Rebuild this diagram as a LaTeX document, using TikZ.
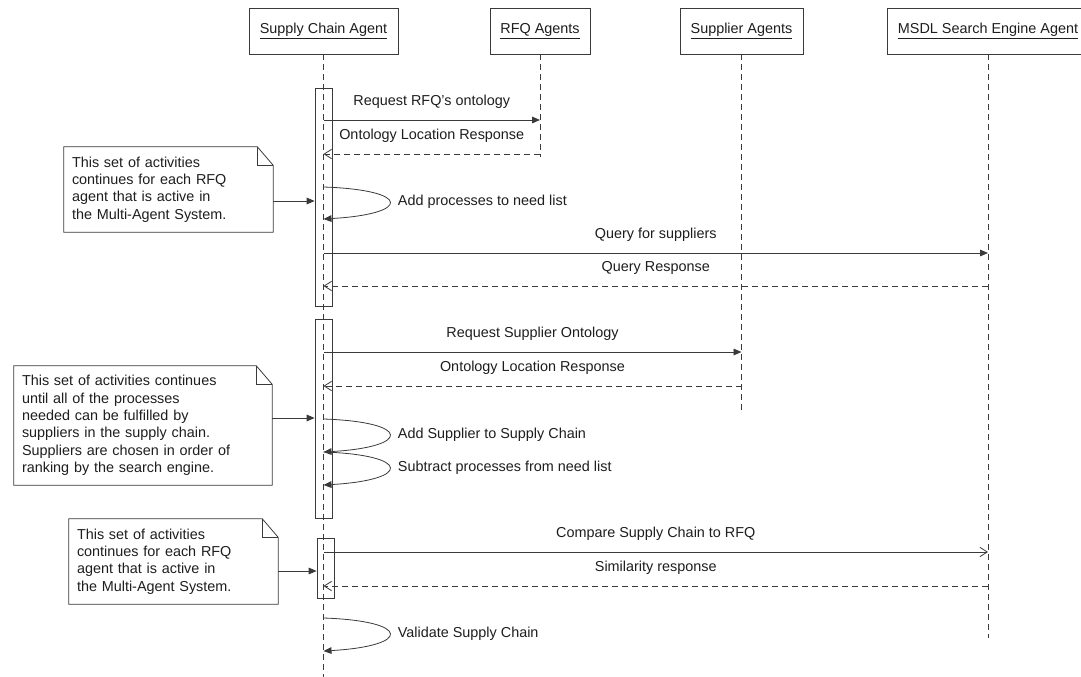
\documentclass[tikz,border=0pt]{standalone}
\usepackage{fontspec}
\setmainfont{Liberation Sans}
\usepackage{xcolor}
\definecolor{LineGray}{HTML}{3A3A3A}
\definecolor{TextGray}{HTML}{1E1E1E}
\usetikzlibrary{arrows.meta, positioning, calc}
\tikzset{
  agentbox/.style={rectangle, draw=LineGray, fill=white, line width=0.6pt, minimum height=34.5pt, inner sep=0pt, font=\fontsize{10.8}{13}\selectfont, text=TextGray},
  activebox/.style={rectangle, draw=LineGray, fill=white, line width=0.6pt, minimum width=12.75pt, inner sep=0pt},
  notebox/.style={rectangle, inner xsep=6pt, inner ysep=0pt, align=left, font=\fontsize{10.8}{13.1}\selectfont, text=TextGray},
  noteline/.style={draw=LineGray, line width=0.6pt},
  lifeline/.style={draw=LineGray, line width=0.6pt, dash pattern=on 4.5pt off 3pt},
  msgarrow/.style={draw=LineGray, line width=0.6pt, -{Triangle[length=6pt,width=5pt]}},
  callarrow/.style={draw=LineGray, line width=0.6pt, -{Straight Barb[length=5.5pt,width=7pt]}},
  retarrow/.style={draw=LineGray, line width=0.6pt, dash pattern=on 4.5pt off 3pt, -{Straight Barb[length=5.5pt,width=7pt]}},
  msglabel/.style={midway, anchor=south, inner sep=0pt, yshift=8.5pt, text height=7.5pt, text depth=2pt, font=\fontsize{10.8}{13}\selectfont, text=TextGray},
  selflabel/.style={pos=0.5, anchor=west, inner sep=0pt, xshift=6pt, text height=7.5pt, text depth=2pt, font=\fontsize{10.8}{13}\selectfont, text=TextGray}
}

\begin{document}
\begin{tikzpicture}[x=0.75pt, y=-0.75pt]
  \useasboundingbox (0,0) rectangle (1081,677);
  \clip (0,0) rectangle (1081,677);
  \fill[white] (0,0) rectangle (1081,677);

  % agents
  \node[agentbox, minimum width=111.75pt] (sc) at (323.5,31) {\underline{Supply Chain Agent}};
  \node[agentbox, minimum width=75pt] (rfq) at (540,31) {\underline{RFQ Agents}};
  \node[agentbox, minimum width=92.25pt] (sup) at (741.5,31) {\underline{Supplier Agents}};
  \node[agentbox, minimum width=151.5pt] (msdl) at (988,31) {\underline{MSDL Search Engine Agent}};

  % activations
  \node[activebox, minimum height=163.5pt] (a1) at (323.5,197) {};
  \node[activebox, minimum height=149.25pt] (a2) at (323.5,418.5) {};
  \node[activebox, minimum height=45pt] (a3) at (325.5,568) {};

  \draw[lifeline] (sc.south) -- (sc.south |- 0,677);
  \draw[lifeline] (rfq.south) -- (rfq.south |- 0,157);
  \draw[lifeline] (sup.south) -- (sup.south |- 0,412);
  \draw[lifeline] (msdl.south) -- (msdl.south |- 0,638);

  % notes
  \node[notebox, text width=144.75pt, minimum height=63.75pt] (note1) at (168.5,189.5)
    {This set of activities\\continues for each RFQ\\agent that is active in\\the Multi-Agent System.};
  \node[notebox, text width=181.5pt, minimum height=89.25pt] (note2) at (143,425.5)
    {This set of activities continues\\until all of the processes\\needed can be fulfilled by\\suppliers in the supply chain.\\Suppliers are chosen in order of\\ranking by the search engine.};
  \node[notebox, text width=144.75pt, minimum height=63.75pt] (note3) at (173.5,561.5)
    {This set of activities\\continues for each RFQ\\agent that is active in\\the Multi-Agent System.};
  \foreach \n in {note1,note2,note3} {
    \draw[noteline] (\n.north west) -- ([xshift=-12pt]\n.north east) -- ([yshift=-14pt]\n.north east) -- (\n.south east) -- (\n.south west) -- cycle;
    \draw[noteline] ([xshift=-12pt]\n.north east) -- ([xshift=-12pt,yshift=-14pt]\n.north east) -- ([yshift=-14pt]\n.north east);
  }
  \draw[msgarrow] (note1.east |- 0,201) -- (a1.west |- 0,201);
  \draw[msgarrow] (note2.east |- 0,418) -- (a2.west |- 0,418);
  \draw[msgarrow] (note3.east |- 0,571) -- (a3.west |- 0,571);

  % messages
  \draw[msgarrow] (sc |- 0,120) -- node[msglabel]{Request RFQ's ontology} (rfq |- 0,120);
  \draw[retarrow] (rfq |- 0,154) -- node[msglabel]{Ontology Location Response} (sc |- 0,154);
  \draw[msgarrow] (sc |- 0,187) .. controls +(88,3) and +(88,-5) .. node[selflabel]{Add processes to need list} (sc |- 0,219);
  \draw[msgarrow] (sc |- 0,253) -- node[msglabel]{Query for suppliers} (msdl |- 0,253);
  \draw[retarrow] (msdl |- 0,286) -- node[msglabel]{Query Response} (sc |- 0,286);

  \draw[msgarrow] (sc |- 0,352) -- node[msglabel]{Request Supplier Ontology} (sup |- 0,352);
  \draw[retarrow] (sup |- 0,386) -- node[msglabel]{Ontology Location Response} (sc |- 0,386);
  \draw[msgarrow] (sc |- 0,419) .. controls +(88,3) and +(88,-5) .. node[selflabel]{Add Supplier to Supply Chain} (sc |- 0,452);
  \draw[msgarrow] (sc |- 0,452) .. controls +(88,3) and +(88,-5) .. node[selflabel]{Subtract processes from need list} (sc |- 0,485);

  \draw[callarrow] (sc |- 0,552) -- node[msglabel]{Compare Supply Chain to RFQ} (msdl |- 0,552);
  \draw[retarrow] (msdl |- 0,586) -- node[msglabel]{Similarity response} (sc |- 0,586);
  \draw[msgarrow] (sc |- 0,618) .. controls +(88,3) and +(88,-5) .. node[selflabel]{Validate Supply Chain} (sc |- 0,651);
\end{tikzpicture}
\end{document}
